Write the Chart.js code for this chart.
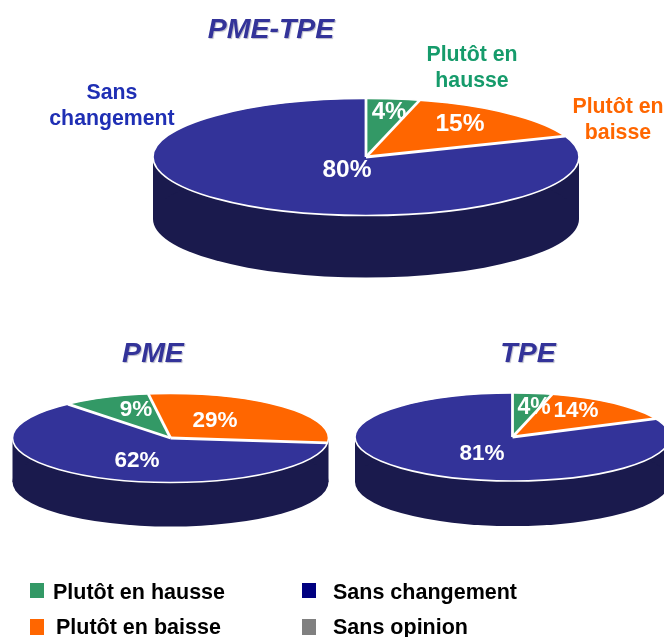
<!DOCTYPE html>
<html lang="fr">
<head>
<meta charset="utf-8">
<title>PME-TPE</title>
<script src="https://cdn.jsdelivr.net/npm/chart.js@4/dist/chart.umd.min.js"></script>
<style>
html,body{margin:0;padding:0;background:#fff;}
#stage{position:relative;width:664px;height:637px;overflow:hidden;background:#fff;font-family:"Liberation Sans",Arial,sans-serif;font-weight:bold;}
#stage canvas{position:absolute;left:0;top:0;}
.t{position:absolute;white-space:nowrap;transform:translate(-50%,-50%);text-align:center;line-height:26px;}
.title{font-style:italic;font-size:28.5px;color:#333399;text-shadow:1px 1px 1px #b9b9c9;}
.pct{color:#fff;}
.sq{position:absolute;width:14px;}
.lg{position:absolute;font-size:21.5px;color:#000;line-height:24px;white-space:nowrap;}
</style>
</head>
<body>
<div id="stage"></div>
<script>
// Data
const categories = ["Plutôt en hausse", "Plutôt en baisse", "Sans changement", "Sans opinion"];
const titles = ["PME-TPE", "PME", "TPE"];
const valuesPmeTpe = [4, 15, 80, 0];
const valuesPme = [9, 29, 62, 0];
const valuesTpe = [4, 14, 81, 0];
const sliceColors = ["#339966", "#ff6600", "#333399", "#808080"];
const legendColors = ["#339966", "#ff6600", "#000080", "#808080"];

// Layout of the three drawings
const pies = [
  {values: valuesPmeTpe, rotation: 0, cx: 366, cy: 157, rx: 213, ry: 58.5, depth: 62,
   title: [271, 28], pct: [[389,111,24],[460,123,24.5],[347,169,24.5]]},
  {values: valuesPme, rotation: -40.5, cx: 170.5, cy: 438, rx: 158, ry: 44.5, depth: 44,
   title: [153, 352], pct: [[136,409,22.5],[215,420,22.5],[137,460,22.5]]},
  {values: valuesTpe, rotation: 0, cx: 512.5, cy: 437, rx: 157.5, ry: 44, depth: 45,
   title: [528, 352], pct: [[534,406,23],[576,410,22.5],[482,453,22.5]]}
];
const sideLabels = [
  {text: "Sans<br>changement", x: 112, y: 104.5, color: "#1f2fb4"},
  {text: "Plutôt en<br>hausse", x: 472, y: 67, color: "#169b6b"},
  {text: "Plutôt en<br>baisse", x: 618, y: 119, color: "#ff6600"}
];
const legendPos = [
  {sx: 30, sy: 583, sh: 15, tx: 53, ty: 580},
  {sx: 30, sy: 619, sh: 16, tx: 56, ty: 615},
  {sx: 302, sy: 583, sh: 15, tx: 333, ty: 580},
  {sx: 302, sy: 619, sh: 16, tx: 333, ty: 615}
];

const W = 720, H = 637, midY = H / 2;
const stage = document.getElementById("stage");

const pie3d = {
  id: "pie3d",
  beforeDatasetsDraw(chart, args, o) {
    const ctx = chart.ctx, arc = chart.getDatasetMeta(0).data[0];
    ctx.save();
    ctx.fillStyle = "#1a1a4d";
    ctx.fillRect(o.cx - o.rx, o.cy, o.rx * 2, o.depth);
    ctx.beginPath();
    ctx.ellipse(o.cx, o.cy + o.depth, o.rx, o.ry, 0, 0, Math.PI * 2);
    ctx.fill();
    ctx.restore();
    ctx.save();
    ctx.translate(0, o.cy);
    ctx.scale(1, o.ry / arc.outerRadius);
    ctx.translate(0, -arc.y);
  },
  afterDatasetsDraw(chart, args, o) {
    const ctx = chart.ctx;
    ctx.restore();
    ctx.save();
    ctx.strokeStyle = "#fff";
    ctx.lineWidth = 1.6;
    ctx.beginPath();
    ctx.ellipse(o.cx, o.cy, o.rx, o.ry, 0, 0, Math.PI * 2);
    ctx.stroke();
    ctx.lineWidth = 2.8;
    chart.getDatasetMeta(0).data.forEach(a => {
      if (a.endAngle - a.startAngle <= 0) return;
      ctx.beginPath();
      ctx.moveTo(o.cx, o.cy);
      ctx.lineTo(o.cx + Math.cos(a.startAngle) * o.rx, o.cy + Math.sin(a.startAngle) * o.ry);
      ctx.stroke();
    });
    ctx.restore();
  }
};

function addText(cls, html, x, y, extra) {
  const d = document.createElement("div");
  d.className = cls;
  d.innerHTML = html;
  d.style.left = x + "px";
  d.style.top = y + "px";
  if (extra) Object.assign(d.style, extra);
  stage.appendChild(d);
}

pies.forEach((p, i) => {
  const c = document.createElement("canvas");
  c.width = W; c.height = H;
  c.style.width = W + "px"; c.style.height = H + "px";
  stage.appendChild(c);
  new Chart(c, {
    type: "pie",
    data: {labels: categories, datasets: [{data: p.values, backgroundColor: sliceColors, borderWidth: 0, hoverOffset: 0}]},
    options: {
      responsive: false, animation: false, events: [], rotation: p.rotation,
      layout: {padding: {left: p.cx - p.rx, right: W - p.cx - p.rx, top: midY - p.rx, bottom: midY - p.rx}},
      plugins: {legend: {display: false}, tooltip: {enabled: false}, pie3d: p}
    },
    plugins: [pie3d]
  });
});

pies.forEach((p, i) => {
  addText("t title", titles[i], p.title[0], p.title[1]);
  p.pct.forEach((q, j) => addText("t pct", p.values[j] + "%", q[0], q[1], {fontSize: q[2] + "px"}));
});
sideLabels.forEach(l => addText("t", l.text, l.x, l.y, {color: l.color, fontSize: "21.3px"}));
categories.forEach((name, i) => {
  const l = legendPos[i];
  const s = document.createElement("div");
  s.className = "sq";
  s.style.cssText = `left:${l.sx}px;top:${l.sy}px;height:${l.sh}px;background:${legendColors[i]}`;
  stage.appendChild(s);
  const d = document.createElement("div");
  d.className = "lg";
  d.textContent = name;
  d.style.left = l.tx + "px";
  d.style.top = l.ty + "px";
  stage.appendChild(d);
});
</script>
</body>
</html>
